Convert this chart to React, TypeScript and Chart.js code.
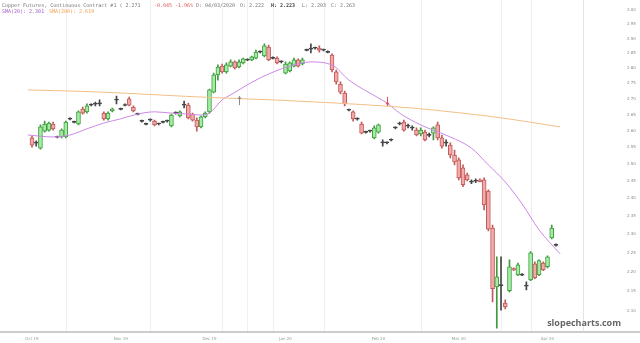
import React, { useEffect, useRef } from 'react';
import { Chart, registerables } from 'chart.js';
Chart.register(...registerables);

const opens = [2.578,2.563,2.547,2.599,2.602,2.621,2.581,2.581,2.581,2.637,2.627,2.621,2.668,2.659,2.680,2.684,2.684,2.655,2.637,2.662,2.697,2.668,2.680,2.700,2.674,2.652,2.630,2.621,2.633,2.630,2.621,2.627,2.630,2.615,2.655,2.646,2.680,2.680,2.652,2.633,2.612,2.643,2.659,2.722,2.778,2.807,2.788,2.807,2.821,2.804,2.818,2.828,2.828,2.834,2.854,2.841,2.871,2.834,2.834,2.821,2.784,2.791,2.807,2.828,2.814,2.861,2.864,2.868,2.868,2.861,2.854,2.844,2.788,2.748,2.719,2.665,2.659,2.637,2.621,2.596,2.599,2.578,2.596,2.563,2.563,2.572,2.609,2.621,2.627,2.615,2.609,2.602,2.590,2.596,2.587,2.593,2.618,2.578,2.563,2.556,2.526,2.512,2.488,2.468,2.447,2.450,2.453,2.453,2.421,2.317,2.161,2.166,2.120,2.151,2.208,2.192,2.192,2.164,2.179,2.221,2.192,2.223,2.213,2.290,2.271];
const highs = [2.584,2.569,2.618,2.630,2.627,2.627,2.584,2.606,2.630,2.640,2.630,2.662,2.674,2.684,2.684,2.690,2.697,2.659,2.659,2.671,2.709,2.671,2.684,2.706,2.678,2.655,2.633,2.624,2.637,2.633,2.624,2.630,2.633,2.652,2.659,2.662,2.693,2.687,2.655,2.640,2.646,2.659,2.732,2.784,2.811,2.814,2.818,2.828,2.825,2.828,2.834,2.831,2.841,2.861,2.858,2.882,2.878,2.838,2.838,2.825,2.821,2.821,2.834,2.831,2.834,2.864,2.882,2.871,2.875,2.864,2.858,2.848,2.794,2.755,2.725,2.668,2.662,2.640,2.627,2.599,2.602,2.615,2.621,2.572,2.566,2.575,2.612,2.627,2.633,2.621,2.615,2.609,2.609,2.602,2.593,2.612,2.627,2.587,2.572,2.563,2.541,2.518,2.497,2.473,2.453,2.456,2.456,2.459,2.424,2.325,2.239,2.239,2.128,2.231,2.210,2.223,2.195,2.174,2.253,2.226,2.231,2.226,2.242,2.325,2.274];
const lows = [2.550,2.553,2.544,2.596,2.599,2.602,2.578,2.578,2.578,2.634,2.624,2.618,2.652,2.655,2.678,2.678,2.678,2.633,2.633,2.659,2.684,2.665,2.678,2.678,2.659,2.649,2.627,2.618,2.630,2.615,2.618,2.624,2.627,2.612,2.652,2.643,2.671,2.637,2.630,2.599,2.609,2.640,2.655,2.719,2.761,2.784,2.784,2.804,2.798,2.801,2.814,2.825,2.825,2.831,2.851,2.838,2.825,2.831,2.814,2.818,2.781,2.788,2.804,2.804,2.811,2.858,2.851,2.864,2.854,2.858,2.851,2.788,2.748,2.716,2.678,2.662,2.630,2.633,2.590,2.593,2.596,2.575,2.593,2.553,2.560,2.569,2.606,2.618,2.599,2.609,2.602,2.584,2.584,2.569,2.581,2.572,2.572,2.547,2.553,2.518,2.497,2.453,2.433,2.450,2.442,2.445,2.447,2.367,2.309,2.123,2.058,2.102,2.105,2.148,2.203,2.190,2.190,2.153,2.177,2.182,2.190,2.203,2.210,2.287,2.268];
const closes = [2.556,2.562,2.612,2.621,2.624,2.606,2.580,2.602,2.627,2.636,2.626,2.659,2.655,2.678,2.681,2.683,2.684,2.637,2.655,2.668,2.696,2.667,2.679,2.680,2.662,2.651,2.629,2.620,2.634,2.618,2.622,2.626,2.631,2.649,2.656,2.659,2.680,2.640,2.633,2.612,2.643,2.655,2.729,2.778,2.804,2.788,2.811,2.821,2.801,2.821,2.831,2.827,2.838,2.854,2.855,2.875,2.828,2.833,2.818,2.822,2.814,2.818,2.828,2.807,2.828,2.860,2.865,2.867,2.861,2.862,2.853,2.794,2.755,2.722,2.684,2.664,2.637,2.636,2.593,2.595,2.600,2.609,2.618,2.563,2.564,2.571,2.610,2.622,2.602,2.614,2.608,2.587,2.602,2.572,2.586,2.609,2.578,2.553,2.562,2.527,2.506,2.459,2.439,2.453,2.446,2.449,2.447,2.381,2.314,2.156,2.187,2.164,2.110,2.213,2.205,2.218,2.191,2.163,2.250,2.184,2.229,2.205,2.239,2.317,2.270];

const sma20Day = [-1, 5, 9, 13, 17, 21, 25, 29, 33, 37, 40, 42, 45, 47, 54, 61, 66, 71, 75, 82, 84, 87, 92, 99, 104, 108, 112, 116, 120, 125];
const sma20Val = [2.587,2.581,2.587,2.606,2.624,2.637,2.652,2.659,2.655,2.652,2.649,2.655,2.697,2.713,2.768,2.807,2.821,2.811,2.761,2.703,2.687,2.655,2.618,2.581,2.547,2.497,2.447,2.384,2.312,2.247];
const sma200Day = [-1, 16, 40, 63, 87, 99, 111, 125];
const sma200Val = [2.729, 2.722, 2.706, 2.693, 2.674, 2.659, 2.640, 2.612];

const arrowDay = [49, 84];
const arrowPrice = [2.709, 2.678];
const arrowUp = [true, false];

const monthDay = [0, 21, 42, 60, 82, 101, 122];
const monthLabels = ['Oct 19', 'Nov 19', 'Dec 19', 'Jan 20', 'Feb 20', 'Mar 20', 'Apr 20'];
const priceTicks = [2.10,2.15,2.20,2.25,2.30,2.35,2.40,2.45,2.50,2.55,2.60,2.65,2.70,2.75,2.80,2.85,2.90,2.95,3.00];
const gridDays = [8, 28, 45, 51, 57, 69, 92, 111, 118];

const GREEN_FILL = '#a3eea3';
const GREEN_LINE = '#3f9a3f';
const RED_FILL = '#f2a9a9';
const RED_LINE = '#c25a5a';
const DOJI = '#444444';

export default function App() {
  const ref = useRef<HTMLCanvasElement>(null);
  useEffect(() => {
    document.body.style.margin = '0';
    const isDoji = (i: number) => Math.abs(closes[i] - opens[i]) / opens[i] < 0.0012;
    const fill = opens.map((o, i) => (isDoji(i) ? DOJI : closes[i] >= o ? GREEN_FILL : RED_FILL));
    const line = opens.map((o, i) => (isDoji(i) ? DOJI : closes[i] >= o ? GREEN_LINE : RED_LINE));

    const decor = {
      id: 'decor',
      beforeDatasetsDraw(chart: any) {
        const { ctx, chartArea, scales } = chart;
        ctx.save();
        ctx.strokeStyle = '#efefef';
        ctx.lineWidth = 1;
        gridDays.forEach((d) => {
          const x = Math.round(scales.x.getPixelForValue(d)) + 0.5;
          ctx.beginPath();
          ctx.moveTo(x, chartArea.top);
          ctx.lineTo(x, chartArea.bottom);
          ctx.stroke();
        });
        ctx.restore();
      },
      afterDraw(chart: any) {
        const { ctx, chartArea, width, scales } = chart;
        ctx.save();
        ctx.strokeStyle = '#9a9a9a';
        ctx.lineWidth = 1;
        ctx.beginPath();
        ctx.moveTo(0, chartArea.bottom + 0.5);
        ctx.lineTo(width, chartArea.bottom + 0.5);
        ctx.stroke();
        ctx.strokeStyle = '#e4e4e4';
        ctx.beginPath();
        ctx.moveTo(chartArea.right + 0.5, 0);
        ctx.lineTo(chartArea.right + 0.5, chartArea.bottom);
        ctx.stroke();

        arrowDay.forEach((d, i) => {
          const x = Math.round(scales.x.getPixelForValue(d)) + 0.5;
          const y = scales.y.getPixelForValue(arrowPrice[i]);
          const up = arrowUp[i];
          const c = up ? '#8c8c8c' : '#e05050';
          ctx.strokeStyle = c;
          ctx.fillStyle = c;
          ctx.beginPath();
          ctx.moveTo(x, y);
          ctx.lineTo(x, up ? y + 9 : y - 9);
          ctx.stroke();
          ctx.beginPath();
          ctx.moveTo(x, y);
          ctx.lineTo(x - 2, up ? y + 3 : y - 3);
          ctx.lineTo(x + 2, up ? y + 3 : y - 3);
          ctx.closePath();
          ctx.fill();
        });

        ctx.textBaseline = 'alphabetic';
        ctx.textAlign = 'left';
        const F = '5px "DejaVu Sans Mono"';
        const parts: [string, number, string, boolean][] = [
          ['Copper Futures, Continuous Contract #1 ( 2.271', 2, '#777', false],
          ['-0.045', 154, '#e05a5a', false],
          ['-1.96%', 175, '#e05a5a', false],
          ['D: 04/03/2020', 196, '#777', false],
          ['O: 2.222', 240, '#777', false],
          ['H: 2.223', 271, '#444', true],
          ['L: 2.203', 302, '#777', false],
          ['C: 2.263', 331, '#777', false],
        ];
        parts.forEach(([t, px, c, b]) => {
          ctx.font = (b ? 'bold ' : '') + F;
          ctx.fillStyle = c;
          ctx.fillText(t, px, 7);
        });
        ctx.font = F;
        ctx.fillStyle = '#a35bc4';
        ctx.fillText('SMA(20): 2.301', 2, 13);
        ctx.fillStyle = '#f0a050';
        ctx.fillText('SMA(200): 2.619', 49, 13);

        ctx.font = 'bold 9px "Open Sans"';
        ctx.fillStyle = '#666';
        ctx.textAlign = 'right';
        ctx.fillText('slopecharts.com', 621, 326);
        ctx.restore();
      },
    };

    const chart = new Chart(ref.current!, {
      type: 'bar',
      data: {
        datasets: [
          {
            type: 'line',
            data: sma200Day.map((d, i) => ({ x: d, y: sma200Val[i] })),
            borderColor: '#f3be86',
            borderWidth: 1,
            pointRadius: 0,
            tension: 0.4,
            order: 0,
          } as any,
          {
            type: 'line',
            data: sma20Day.map((d, i) => ({ x: d, y: sma20Val[i] })),
            borderColor: '#cc88e6',
            borderWidth: 1,
            pointRadius: 0,
            cubicInterpolationMode: 'monotone',
            order: 0,
          } as any,
          {
            data: opens.map((o, i) => ({ x: i, y: [o, closes[i]] })),
            backgroundColor: fill,
            borderColor: line,
            borderWidth: 1,
            borderSkipped: false,
            barThickness: 4,
            minBarLength: 1,
            grouped: false,
            order: 1,
          } as any,
          {
            data: highs.map((h, i) => ({ x: i, y: [lows[i], h] })),
            backgroundColor: line,
            borderWidth: 0,
            barThickness: 1,
            grouped: false,
            order: 2,
          } as any,
        ],
      },
      options: {
        animation: false,
        responsive: false,
        devicePixelRatio: 1,
        layout: { padding: 0 },
        plugins: { legend: { display: false }, tooltip: { enabled: false } },
        scales: {
          x: {
            type: 'linear',
            offset: false,
            min: -7.57,
            max: 130.4,
            grid: { display: false, offset: false, drawTicks: false },
            border: { display: false },
            afterBuildTicks: (s: any) => {
              s.ticks = monthDay.map((v) => ({ value: v }));
            },
            afterFit: (s: any) => {
              s.height = 11.5;
              s.paddingLeft = 0;
              s.paddingRight = 0;
            },
            ticks: {
              autoSkip: false,
              maxRotation: 0,
              padding: 5,
              color: '#8e9e8e',
              font: { size: 4, family: 'DejaVu Sans' },
              callback: (_v: any, i: number) => monthLabels[i],
            },
          },
          y: {
            type: 'logarithmic',
            position: 'right',
            min: 2.0496,
            max: 3.0358,
            grid: { display: false, drawTicks: false },
            border: { display: false },
            afterBuildTicks: (s: any) => {
              s.ticks = priceTicks.map((v) => ({ value: v }));
            },
            afterFit: (s: any) => {
              s.width = 57;
              s.paddingTop = 0;
              s.paddingBottom = 0;
            },
            ticks: {
              padding: 44,
              color: '#8a8a8a',
              font: { size: 4, family: 'DejaVu Sans' },
              callback: (v: any) => Number(v).toFixed(2),
            },
          },
        },
      } as any,
      plugins: [decor],
    });
    return () => chart.destroy();
  }, []);
  return (
    <div style={{ width: 640, height: 343 }}>
      <canvas ref={ref} width={640} height={343} />
    </div>
  );
}
